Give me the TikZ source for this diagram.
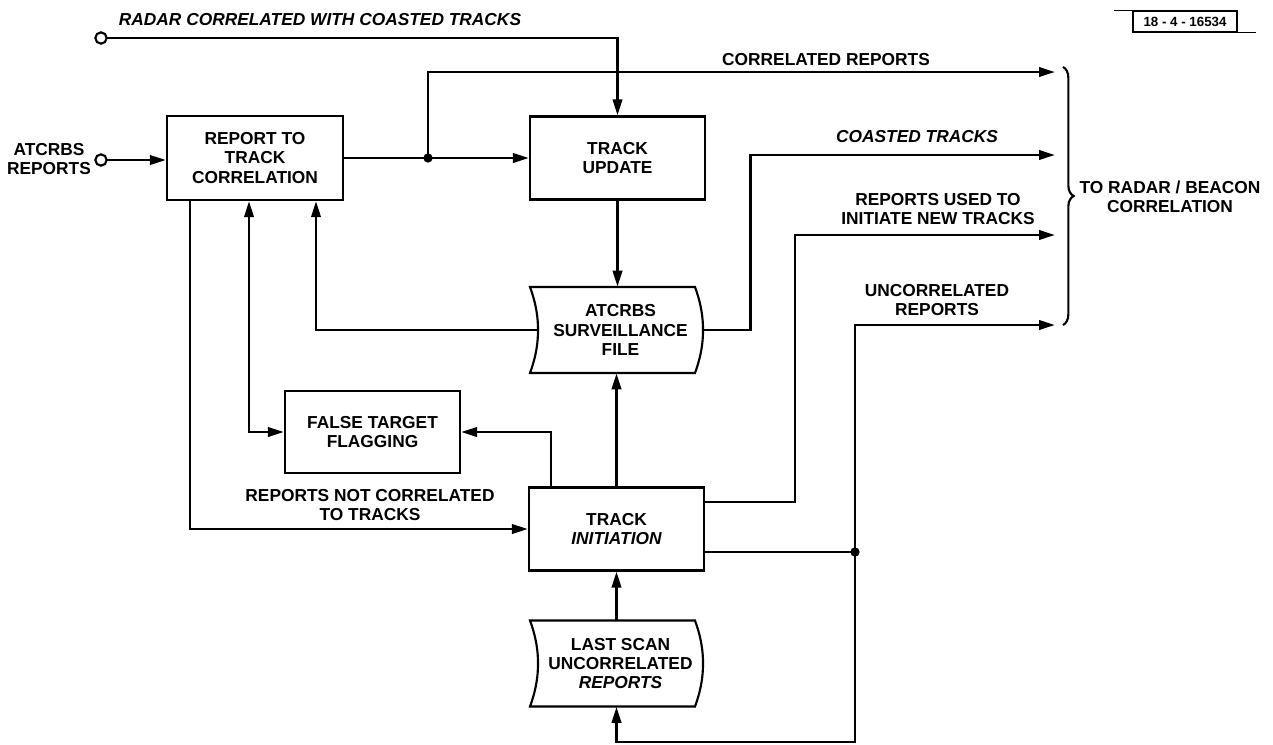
\documentclass[tikz,border=0pt]{standalone}
\usepackage{fontspec}
\setmainfont{Liberation Sans}
\usetikzlibrary{arrows.meta,decorations.pathreplacing,calc}
\newcommand\lbl{\fontsize{13}{14.5}\selectfont\bfseries}
\newcommand\storeoutline[1]{%
  \draw[line width=1.6pt]
    ([shift={(-90.5,-43)}]#1.center)
      .. controls ([shift={(-84,-25)}]#1.center) and ([shift={(-82.5,-12)}]#1.center) ..
    ([shift={(-82.5,0)}]#1.center)
      .. controls ([shift={(-82.5,12)}]#1.center) and ([shift={(-84,25)}]#1.center) ..
    ([shift={(-90.5,43)}]#1.center)
    -- ([shift={(74.5,43)}]#1.center)
      .. controls ([shift={(81,25)}]#1.center) and ([shift={(82.5,12)}]#1.center) ..
    ([shift={(82.5,0)}]#1.center)
      .. controls ([shift={(82.5,-12)}]#1.center) and ([shift={(81,-25)}]#1.center) ..
    ([shift={(74.5,-43)}]#1.center) -- cycle;}
\begin{document}
\begin{tikzpicture}[x=0.75pt,y=-0.75pt,
  box/.style={draw, line width=1.6pt, minimum width=131.25pt, minimum height=62.25pt, align=center, font=\lbl},
  store/.style={minimum width=123.75pt, minimum height=64.5pt, align=center, font=\lbl},
  conn/.style={line width=2pt},
  arr/.style={conn, -{Triangle[length=12pt,width=7pt]}},
  arrboth/.style={conn, {Triangle[length=12pt,width=7pt]}-{Triangle[length=12pt,width=7pt]}},
  lab/.style={align=center, font=\lbl, inner sep=0pt},
  jdot/.style={circle, fill, inner sep=0pt, minimum size=7pt},
  port/.style={circle, draw, line width=1.6pt, inner sep=0pt, minimum size=8.5pt, fill=white}]
\useasboundingbox (0,0) rectangle (1273,744);

% blocks
\node[box, minimum width=132pt, minimum height=63pt] (rtc) at (255,158) {REPORT TO\\TRACK\\CORRELATION};
\node[box] (tu) at (617.5,158) {TRACK\\UPDATE};
\node[store] (surv) at (620.5,330) {ATCRBS\\SURVEILLANCE\\FILE};
\storeoutline{surv}
\node[box, minimum height=61.5pt] (ftf) at (372.5,432) {FALSE TARGET\\FLAGGING};
\node[box] (ti) at (616.5,529) {TRACK\\{\itshape INITIATION}};
\node[store] (ls) at (620.5,663.5) {LAST SCAN\\UNCORRELATED\\{\itshape REPORTS}};
\storeoutline{ls}

% inputs
\node[lab] (lA) at (49,159) {ATCRBS\\REPORTS};
\node[lab] (lR) at (320,20) {\itshape RADAR CORRELATED WITH COASTED TRACKS};

% free ends
\coordinate (o1) at (1055,72);
\coordinate (o2) at (1055,155);
\coordinate (o3) at (1055,235);
\coordinate (o4) at (1055,325);
\coordinate (b3) at (795,235);
\coordinate (bl) at (855,742);

% connectors
\draw[arr] (101,160) coordinate (pA) -- (pA -| rtc.west);
\draw[arr] (101,38) coordinate (pR) -| (tu.north);
\draw[arr] (rtc.east) -- (tu.west);
\node[jdot] (d1) at (428,158) {};
\draw[arr] (d1.center) |- (o1);
\draw[arr] (tu.south) -- (tu.south |- surv.north);
\draw[arr] (surv.west) -| ([shift={(61,0)}]rtc.south);
\draw[arr] (surv.east) -- ++(47,0) |- (o2);
\draw[arr] ([shift={(0,-27)}]ti.east) -| (b3) -- (o3);
\node[jdot] (d2) at (855,552) {};
\draw[conn] (d2.center -| ti.east) -- (d2.center);
\draw[arr] (d2.center) |- (o4);
\draw[arr] (d2.center) -- (bl) -| (ti.south |- ls.south);
\draw[arr] (ti.south |- ls.north) -- (ti.south);
\draw[arr] (ti.north) -- (ti.north |- surv.south);
\draw[arr] ([shift={(-65.5,0)}]ti.north) |- (ftf.east);
\draw[arrboth] ([shift={(-6,0)}]rtc.south) |- (ftf.west);
\draw[arr] ([shift={(-65,0)}]rtc.south) |- (ti.west);
\node[port] (inA) at (pA) {};
\node[port] (inR) at (pR) {};

% labels
\node[lab] (lCR) at (826,60) {CORRELATED REPORTS};
\node[lab] (lCT) at (917,137) {\itshape COASTED TRACKS};
\node[lab] (lRU) at (938,209) {REPORTS USED TO\\INITIATE NEW TRACKS};
\node[lab] (lUR) at (937,300) {UNCORRELATED\\REPORTS};
\node[lab] (lRN) at (370,505) {REPORTS NOT CORRELATED\\TO TRACKS};
\node[lab] (lTR) at (1170,197) {TO RADAR / BEACON\\CORRELATION};

% brace
\draw[line width=1.6pt, decorate, decoration={brace, amplitude=8pt}] (1063,67) -- (1063,325);

% tag
\node[draw, line width=1.1pt, font=\fontsize{10}{12}\selectfont\bfseries, minimum width=78pt, minimum height=15.75pt, inner sep=1pt] (tag) at (1185,21.5) {18 - 4 - 16534};
\draw[line width=1.1pt] (tag.north west) -- ++(-18,0);
\draw[line width=1.1pt] (tag.south east) -- ++(18,0);
\end{tikzpicture}
\end{document}
